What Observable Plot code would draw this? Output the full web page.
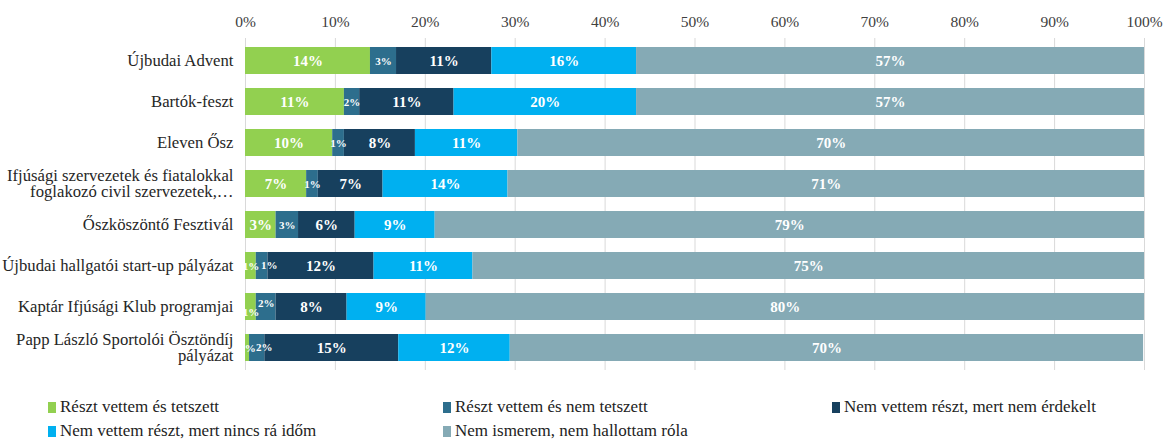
<!DOCTYPE html>
<html><head><meta charset="utf-8">
<script src="https://cdn.jsdelivr.net/npm/d3@7"></script>
<script src="https://cdn.jsdelivr.net/npm/@observablehq/plot@0.6"></script>
<style>
body{margin:0;background:#fff;font-family:'Liberation Serif','Times New Roman',serif;}
#legend{display:grid;grid-template-columns:395px 389px auto;padding-left:48px;row-gap:6px;margin-top:23px;font-size:17px;color:#222;line-height:18px}
.item{display:flex;align-items:center}
.sw{width:8px;height:11px;margin-right:4px;flex:none}
</style></head><body><div id="chart"></div><div id="legend"></div>
<script>
const categories = [
  "Újbudai Advent",
  "Bartók-feszt",
  "Eleven Ősz",
  "Ifjúsági szervezetek és fiatalokkal\nfoglakozó civil szervezetek,…",
  "Őszköszöntő Fesztivál",
  "Újbudai hallgatói start-up pályázat",
  "Kaptár Ifjúsági Klub programjai",
  "Papp László Sportolói Ösztöndíj\npályázat"
];
const series = [
  "Részt vettem és tetszett",
  "Részt vettem és nem tetszett",
  "Nem vettem részt, mert nem érdekelt",
  "Nem vettem részt, mert nincs rá időm",
  "Nem ismerem, nem hallottam róla"
];
const colors = ["#92D050", "#2D6E8D", "#17405E", "#00B0F0", "#85AAB5"];
const resztTetszett    = [13.9, 11.0, 9.7, 6.8, 3.4, 1.2, 1.2, 0.45];
const resztNemTetszett = [2.9, 1.7, 1.3, 1.3, 2.5, 1.3, 2.2, 1.7];
const nemErdekelt      = [10.6, 10.5, 7.9, 7.2, 6.3, 11.8, 7.9, 14.9];
const nincsIdo         = [16.1, 20.3, 11.4, 13.9, 8.9, 11.0, 8.8, 12.4];
const nemIsmerem       = [56.5, 56.5, 69.7, 70.8, 78.9, 74.7, 79.9, 70.45];
const xTicks = [0,10,20,30,40,50,60,70,80,90,100];

const seriesValues = [resztTetszett, resztNemTetszett, nemErdekelt, nincsIdo, nemIsmerem];
const data = [];
series.forEach((s, si) => categories.forEach((c, ci) => data.push({cat: c, series: s, ci, value: seriesValues[si][ci]})));

const label = d => Math.round(d.value) + "%";
const isSmall = d => d.series === series[1] || d.value < 2;
// crowded rows: tiny green next to the teal segment -> labels pushed apart
const tinyGreen = d => resztTetszett[d.ci] < 2;
const cls = d => {
  if (!isSmall(d)) return "big";
  if (!tinyGreen(d) || d.series.startsWith("Nem")) return "small";
  const wideTeal = resztNemTetszett[d.ci] >= 2;
  if (d.series === series[0]) return wideTeal ? "down" : "small";
  return wideTeal ? "up" : "right";
};

const textMark = (kind, opts) => Plot.textX(data, Plot.stackX({
  x: "value", y: "cat", z: "series", order: series,
  text: d => cls(d) === kind ? label(d) : null,
  fill: "white", fontWeight: "bold", ...opts}));

const plot = Plot.plot({
  width: 1167, height: 375,
  marginTop: 38, marginBottom: 5, marginLeft: 245, marginRight: 23,
  style: {fontFamily: "'Liberation Serif', 'Times New Roman', serif", background: "#fff"},
  x: {domain: [0, 100]},
  y: {domain: categories, paddingInner: 0.33, paddingOuter: 0.165},
  color: {domain: series, range: colors},
  marks: [
    Plot.ruleX(xTicks, {stroke: "#d9d9d9", strokeWidth: 1}),
    Plot.barX(data, Plot.stackX({x: "value", y: "cat", fill: "series", order: series})),
    textMark("big", {fontSize: 15}),
    textMark("small", {fontSize: 11}),
    textMark("down", {fontSize: 11, dy: 5}),
    textMark("up", {fontSize: 11, dy: -4}),
    textMark("right", {fontSize: 11, dx: 7, dy: -1}),
    Plot.axisX(xTicks, {anchor: "top", tickSize: 0, tickPadding: 12, fontSize: 15.5, fill: "#404040",
      tickFormat: d => d + "%", label: null}),
    Plot.axisY({tickSize: 0, tickPadding: 12, fontSize: 16.7, fill: "#262626", lineHeight: 0.98, label: null})
  ]
});
document.getElementById("chart").appendChild(plot);

const legend = document.getElementById("legend");
series.forEach((s, i) => {
  const it = document.createElement("div");
  it.className = "item";
  const sw = document.createElement("span");
  sw.className = "sw";
  sw.style.background = colors[i];
  const t = document.createElement("span");
  t.textContent = s;
  it.appendChild(sw); it.appendChild(t);
  legend.appendChild(it);
});
</script>
</body></html>
